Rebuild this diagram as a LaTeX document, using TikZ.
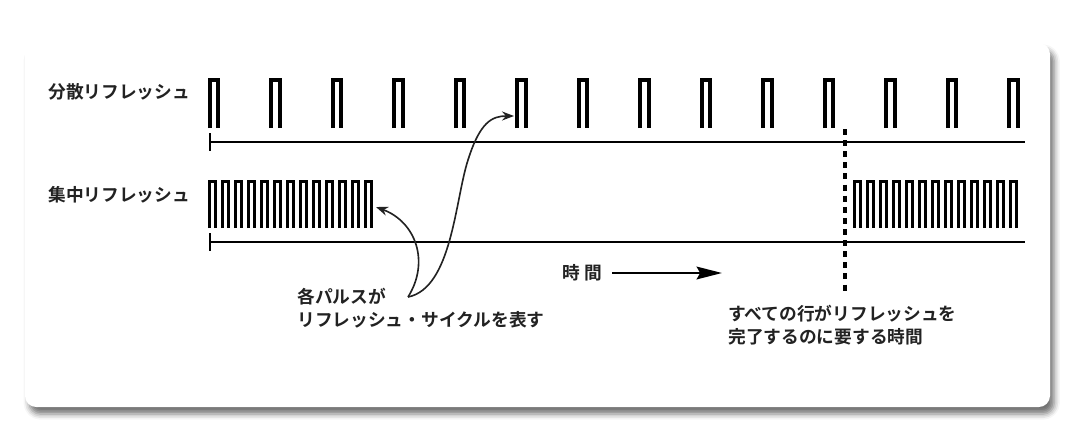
\documentclass[tikz,border=0pt]{standalone}
\usepackage{fontspec}
\newfontfamily\jpfont{Noto Sans CJK JP Bold}
\definecolor{inkgrey}{HTML}{222222}
\usetikzlibrary{arrows.meta, positioning, shadows.blur}

\begin{document}
\begin{tikzpicture}[
        x=0.025cm, y=-0.025cm,
        txt/.style={font=\jpfont\fontsize{12.6}{16.4}\selectfont, text=inkgrey, inner sep=0pt, align=left},
        slowpulse/.style={draw=black, line width=2.8pt},
        fastpulse/.style={draw=black, line width=2.2pt},
        axis/.style={draw=black, line width=1.45pt},
        marker/.style={draw=black, line width=2.3pt, dash pattern=on 4.3pt off 3.6pt},
        pointer/.style={draw=inkgrey, line width=1.15pt, -{Stealth[length=8.5pt, width=6.4pt]}},
        timeline/.style={draw=black, line width=1.9pt, -{Stealth[length=18pt, width=9pt, inset=2.5pt]}}
    ]
        \useasboundingbox (0,0) rectangle (1071,429);

        % card
        \fill[white, rounded corners=8pt, blur shadow={shadow xshift=3pt, shadow yshift=-5pt, shadow blur radius=4pt, shadow opacity=55}] (25,43) rectangle (1050,407);

        % row labels
        \node [txt, anchor=west] (distLabel) at (48,92) {分散リフレッシュ};
        \node [txt, anchor=west] (burstLabel) at (48,195) {集中リフレッシュ};

        % distributed refresh: one pulse at a time
        \foreach \i in {0,...,13} {
            \pgfmathsetmacro\px{208+61.5*\i}
            \draw [slowpulse] (\px+1.95,128) -- (\px+1.95,79.95) -- (\px+10.05,79.95) -- (\px+10.05,128);
        }
        \draw [axis] (210,142) -- (1025,142);
        \draw [axis] (210,133) -- (210,151);

        % burst refresh: all rows in one go
        \foreach \s in {208,853} {
            \foreach \i in {0,...,12} {
                \pgfmathsetmacro\px{\s+13*\i}
                \draw [fastpulse] (\px+1.55,228) -- (\px+1.55,181.55) -- (\px+7.65,181.55) -- (\px+7.65,228);
            }
        }
        \draw [axis] (210,242) -- (1025,242);
        \draw [axis] (210,233) -- (210,251);

        % full refresh period
        \coordinate (markTop) at (845,129);
        \coordinate (markEnd) at (845,294);
        \draw [marker] (markTop) -- (markEnd);

        % time axis
        \node [txt] (timeLabel) at (582,273) {時 間};
        \coordinate (timeStart) at (612,273);
        \coordinate (timeEnd) at (722,273);
        \draw [timeline] (timeStart) -- (timeEnd);

        % notes
        \node [txt, anchor=north west] (pulseNote) at (297,288) {各パルスが\\リフレッシュ・サイクルを表す};
        \node [txt, anchor=north west] (fullNote) at (728,305) {すべての行がリフレッシュを\\完了するのに要する時間};

        % pointers from the note
        \coordinate (noteTip) at (408,297);
        \coordinate (burstEnd) at (376,207);
        \coordinate (pulseTop) at (514,116);
        \draw [pointer] (noteTip) .. controls (430,262) and (416,222) .. (burstEnd);
        \draw [pointer] (noteTip) .. controls (452,288) and (455,200) .. (468,160) .. controls (480,122) and (492,116) .. (pulseTop);
    \end{tikzpicture}
\end{document}
